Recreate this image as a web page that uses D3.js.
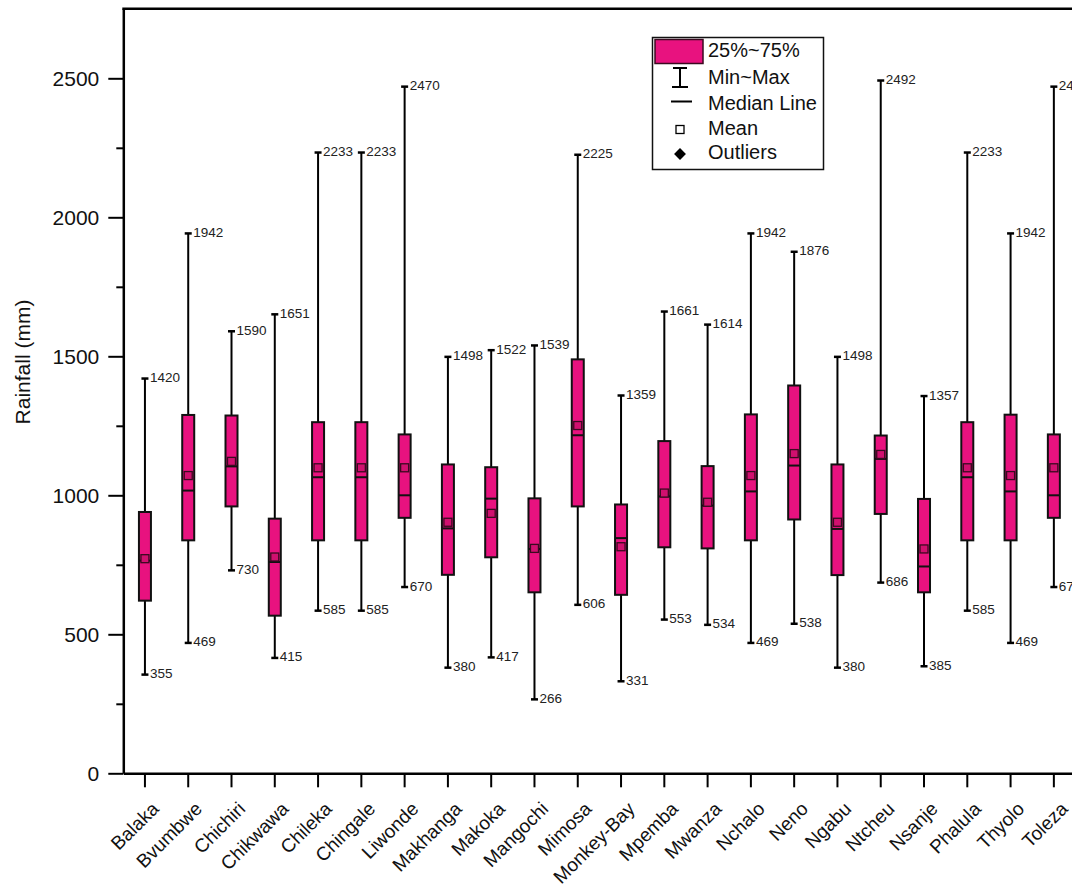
<!DOCTYPE html>
<html>
<head>
<meta charset="utf-8">
<script src="https://cdn.jsdelivr.net/npm/d3@7"></script>
<style>
  html, body { margin: 0; padding: 0; background: #fff; }
  svg { display: block; font-family: Arial, "Liberation Sans", sans-serif; }
</style>
</head>
<body>
<svg id="chart" width="1072" height="894"></svg>
<script>
const categories = ["Balaka","Bvumbwe","Chichiri","Chikwawa","Chileka","Chingale","Liwonde","Makhanga","Makoka","Mangochi","Mimosa","Monkey-Bay","Mpemba","Mwanza","Nchalo","Neno","Ngabu","Ntcheu","Nsanje","Phalula","Thyolo","Toleza"];
const minVals    = [355, 469, 730, 415, 585, 585, 670, 380, 417, 266, 606, 331, 553, 534, 469, 538, 380, 686, 385, 585, 469, 670];
const q1Vals     = [621, 838, 960, 567, 838, 838, 919, 714, 777, 651, 960, 642, 813, 809, 838, 913, 713, 933, 651, 838, 838, 919];
const medianVals = [765, 1017, 1104, 760, 1065, 1065, 1000, 881, 988, 807, 1216, 846, 996, 963, 1014, 1107, 879, 1131, 744, 1065, 1014, 1000];
const meanVals   = [772, 1071, 1122, 778, 1099, 1099, 1099, 903, 935, 809, 1251, 815, 1008, 975, 1071, 1150, 903, 1147, 807, 1099, 1071, 1099];
const q3Vals     = [940, 1289, 1287, 916, 1263, 1263, 1219, 1111, 1101, 989, 1489, 967, 1195, 1105, 1291, 1395, 1111, 1215, 987, 1263, 1290, 1219];
const maxVals    = [1420, 1942, 1590, 1651, 2233, 2233, 2470, 1498, 1522, 1539, 2225, 1359, 1661, 1614, 1942, 1876, 1498, 2492, 1357, 2233, 1942, 2470];
const yMajorTicks = [0, 500, 1000, 1500, 2000, 2500];
const yMinorTicks = [250, 750, 1250, 1750, 2250];
const legendLabels = ["25%~75%", "Min~Max", "Median Line", "Mean", "Outliers"];
const yTitle = "Rainfall (mm)";

const data = categories.map((c, i) => ({
  name: c, min: minVals[i], q1: q1Vals[i], median: medianVals[i],
  mean: meanVals[i], q3: q3Vals[i], max: maxVals[i]
}));

const PINK = "#E8127F";
const svg = d3.select("#chart");

const axisX0 = 123.3;
const x = d3.scaleBand().domain(categories).range([axisX0, 1075.5]).padding(0);
const y = d3.scaleLinear().domain([0, 2750]).range([773.3, 8.8]);
const cx = c => x(c) + x.bandwidth() / 2;

// top frame line
svg.append("line")
  .attr("x1", axisX0 - 1).attr("x2", 1072)
  .attr("y1", y(2750)).attr("y2", y(2750))
  .attr("stroke", "#000").attr("stroke-width", 2.5);

// Y axis (major)
const yAxis = svg.append("g")
  .attr("transform", `translate(${axisX0},0)`)
  .call(d3.axisLeft(y).tickValues(yMajorTicks).tickSize(15).tickSizeOuter(0).tickPadding(9).tickFormat(d3.format("d")));
yAxis.select(".domain").attr("stroke-width", 2.5);
yAxis.selectAll(".tick line").attr("stroke-width", 2);
yAxis.selectAll(".tick text").attr("font-size", 21).attr("fill", "#111")
  .attr("font-family", "Arial, 'Liberation Sans', sans-serif");

// Y axis minor ticks
const yMinor = svg.append("g")
  .attr("transform", `translate(${axisX0},0)`)
  .call(d3.axisLeft(y).tickValues(yMinorTicks).tickSize(7).tickSizeOuter(0).tickFormat(""));
yMinor.select(".domain").remove();
yMinor.selectAll(".tick line").attr("stroke-width", 2);

// X axis
const xAxis = svg.append("g")
  .attr("transform", `translate(0,${y(0)})`)
  .call(d3.axisBottom(x).tickSize(14).tickSizeOuter(0).tickFormat(""));
xAxis.select(".domain").attr("stroke-width", 2.5);
xAxis.selectAll(".tick line").attr("stroke-width", 2);

// X labels rotated
svg.append("g").selectAll("text")
  .data(categories)
  .join("text")
  .attr("transform", d => `translate(${cx(d) + 15},${810}) rotate(-45)`)
  .attr("text-anchor", "end")
  .attr("font-size", 19)
  .attr("fill", "#111")
  .text(d => d);

// Y title
svg.append("text")
  .attr("transform", `translate(30,362) rotate(-90)`)
  .attr("text-anchor", "middle")
  .attr("font-size", 21)
  .attr("fill", "#111")
  .text(yTitle);

// Boxes
const boxW = 12;
const capW = 7;
const g = svg.append("g");
const box = g.selectAll("g.box").data(data).join("g").attr("class", "box");

// whiskers
box.append("line")
  .attr("x1", d => cx(d.name)).attr("x2", d => cx(d.name))
  .attr("y1", d => y(d.max)).attr("y2", d => y(d.q3))
  .attr("stroke", "#000").attr("stroke-width", 2);
box.append("line")
  .attr("x1", d => cx(d.name)).attr("x2", d => cx(d.name))
  .attr("y1", d => y(d.q1)).attr("y2", d => y(d.min))
  .attr("stroke", "#000").attr("stroke-width", 2);
// caps
box.append("line")
  .attr("x1", d => cx(d.name) - capW / 2).attr("x2", d => cx(d.name) + capW / 2)
  .attr("y1", d => y(d.max)).attr("y2", d => y(d.max))
  .attr("stroke", "#000").attr("stroke-width", 2.5);
box.append("line")
  .attr("x1", d => cx(d.name) - capW / 2).attr("x2", d => cx(d.name) + capW / 2)
  .attr("y1", d => y(d.min)).attr("y2", d => y(d.min))
  .attr("stroke", "#000").attr("stroke-width", 2.5);
// box rect
box.append("rect")
  .attr("x", d => cx(d.name) - boxW / 2)
  .attr("y", d => y(d.q3))
  .attr("width", boxW)
  .attr("height", d => y(d.q1) - y(d.q3))
  .attr("fill", PINK).attr("stroke", "#111").attr("stroke-width", 2);
// median
box.append("line")
  .attr("x1", d => cx(d.name) - boxW / 2).attr("x2", d => cx(d.name) + boxW / 2)
  .attr("y1", d => y(d.median)).attr("y2", d => y(d.median))
  .attr("stroke", "#111").attr("stroke-width", 2);
// mean
box.append("rect")
  .attr("x", d => cx(d.name) - 4).attr("y", d => y(d.mean) - 4)
  .attr("width", 8).attr("height", 8)
  .attr("fill", "#D0106F").attr("stroke", "#3a0a20").attr("stroke-width", 1.3);
// value labels
box.append("text")
  .attr("x", d => cx(d.name) + 5).attr("y", d => y(d.max))
  .attr("dominant-baseline", "middle")
  .attr("font-size", 13.5).attr("fill", "#222")
  .text(d => d.max);
box.append("text")
  .attr("x", d => cx(d.name) + 5).attr("y", d => y(d.min))
  .attr("dominant-baseline", "middle")
  .attr("font-size", 13.5).attr("fill", "#222")
  .text(d => d.min);

// Legend
const lg = svg.append("g");
lg.append("rect")
  .attr("x", 652.5).attr("y", 37.5).attr("width", 171).attr("height", 132)
  .attr("fill", "#fff").attr("stroke", "#111").attr("stroke-width", 1.5);
const rowY = [51.5, 78.5, 104.5, 129.5, 154];
const symX = 680;
// swatch
lg.append("rect").attr("x", 655).attr("y", 39.5).attr("width", 48).attr("height", 24)
  .attr("fill", PINK).attr("stroke", "#3a0a20").attr("stroke-width", 1.5);
// min~max symbol
lg.append("line").attr("x1", symX).attr("x2", symX).attr("y1", 68).attr("y2", 87).attr("stroke", "#000").attr("stroke-width", 2);
lg.append("line").attr("x1", symX - 7).attr("x2", symX + 7).attr("y1", 68).attr("y2", 68).attr("stroke", "#000").attr("stroke-width", 2);
lg.append("line").attr("x1", symX - 8).attr("x2", symX + 8).attr("y1", 87).attr("y2", 87).attr("stroke", "#000").attr("stroke-width", 2);
// median line
lg.append("line").attr("x1", symX - 9).attr("x2", symX + 12).attr("y1", rowY[2] - 3).attr("y2", rowY[2] - 3).attr("stroke", "#000").attr("stroke-width", 2);
// mean square
lg.append("rect").attr("x", symX - 4).attr("y", rowY[3] - 4).attr("width", 8).attr("height", 8)
  .attr("fill", "#fff").attr("stroke", "#000").attr("stroke-width", 1.3);
// outlier diamond
lg.append("path").attr("d", d3.symbol(d3.symbolDiamond2, 90)())
  .attr("transform", `translate(${symX},${rowY[4]})`).attr("fill", "#000");
lg.selectAll("text.lab").data(legendLabels).join("text")
  .attr("class", "lab")
  .attr("x", 708).attr("y", (d, i) => rowY[i])
  .attr("dominant-baseline", "middle")
  .attr("font-size", 20).attr("fill", "#111")
  .text(d => d);
</script>
</body>
</html>
